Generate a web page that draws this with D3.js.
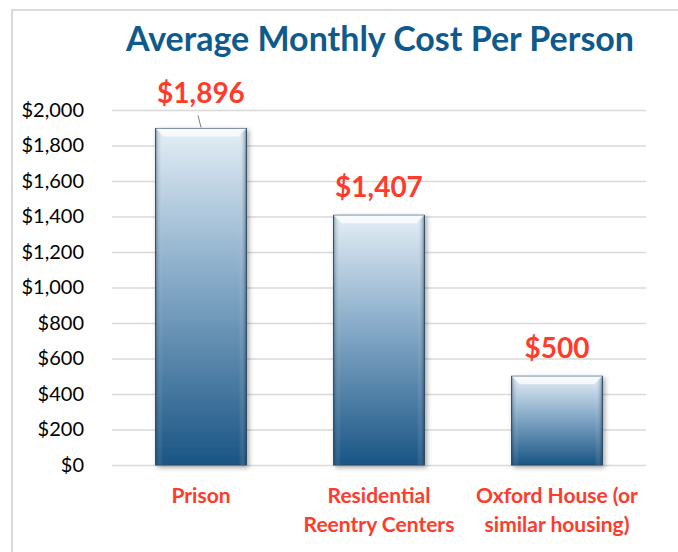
<!DOCTYPE html>
<html>
<head>
<meta charset="utf-8">
<script src="https://cdn.jsdelivr.net/npm/d3@7"></script>
<style>
  body { margin: 0; background: #fff; }
  svg { display: block; font-family: Lato, "Open Sans", sans-serif; }
</style>
</head>
<body>
<svg width="678" height="552"></svg>
<script>
// data
const categories = ['Prison', 'Residential Reentry Centers', 'Oxford House (or similar housing)'];
const categoryLines = [['Prison'], ['Residential', 'Reentry Centers'], ['Oxford House (or', 'similar housing)']];
const costs = [1896, 1407, 500];
const costLabels = ['$1,896', '$1,407', '$500'];
const yTicks = [0, 200, 400, 600, 800, 1000, 1200, 1400, 1600, 1800, 2000];

const svg = d3.select('svg');
const defs = svg.append('defs');

const grad = defs.append('linearGradient')
  .attr('id', 'barFill')
  .attr('x1', 0).attr('y1', 0).attr('x2', 0).attr('y2', 1);
grad.append('stop').attr('offset', '0%').attr('stop-color', '#e4eef6');
grad.append('stop').attr('offset', '45%').attr('stop-color', '#86aac8');
grad.append('stop').attr('offset', '100%').attr('stop-color', '#1a5584');

const side = defs.append('linearGradient')
  .attr('id', 'sideShade')
  .attr('x1', 0).attr('y1', 0).attr('x2', 1).attr('y2', 0);
side.append('stop').attr('offset', '0%').attr('stop-color', '#0d2f4a').attr('stop-opacity', 0.35);
side.append('stop').attr('offset', '8%').attr('stop-color', '#ffffff').attr('stop-opacity', 0);
side.append('stop').attr('offset', '92%').attr('stop-color', '#ffffff').attr('stop-opacity', 0);
side.append('stop').attr('offset', '100%').attr('stop-color', '#0d2f4a').attr('stop-opacity', 0.45);

const shadow = defs.append('filter').attr('id', 'shadow')
  .attr('x', '-20%').attr('y', '-10%').attr('width', '140%').attr('height', '130%');
shadow.append('feDropShadow')
  .attr('dx', 2).attr('dy', 2).attr('stdDeviation', 2.5)
  .attr('flood-color', '#000').attr('flood-opacity', 0.35);

// frame
svg.append('path')
  .attr('d', 'M12,552 V10 H678')
  .attr('fill', 'none')
  .attr('stroke', '#d9d9d9')
  .attr('stroke-width', 2);

const x = d3.scaleBand()
  .domain(categories)
  .range([112, 646])
  .paddingInner(0.49)
  .paddingOuter(0.245);

const y = d3.scaleLinear()
  .domain([0, 2000])
  .range([465, 110]);

// gridlines
svg.append('g')
  .attr('transform', 'translate(112,0)')
  .call(d3.axisLeft(y).tickValues(yTicks).tickSize(-534).tickFormat(''))
  .call(g => g.select('.domain').remove())
  .call(g => g.selectAll('line').attr('stroke', '#d9d9d9').attr('stroke-width', 1.5));

// y labels
svg.append('g')
  .attr('transform', 'translate(84,0)')
  .call(d3.axisLeft(y).tickValues(yTicks).tickSize(0).tickFormat(d => '$' + d3.format(',')(d)))
  .call(g => g.select('.domain').remove())
  .call(g => g.selectAll('text')
    .attr('x', 0)
    .attr('fill', '#000')
    .style('font-size', '20px')
    .style('font-family', 'Lato, sans-serif'));

// bars
const bars = svg.append('g').selectAll('g')
  .data(categories)
  .enter()
  .append('g');

bars.append('rect')
  .attr('x', d => x(d))
  .attr('y', (d, i) => y(costs[i]))
  .attr('width', x.bandwidth())
  .attr('height', (d, i) => y(0) - y(costs[i]))
  .attr('fill', 'url(#barFill)')
  .attr('stroke', '#2a4d68')
  .attr('stroke-width', 1)
  .attr('filter', 'url(#shadow)');

bars.append('rect')
  .attr('x', d => x(d))
  .attr('y', (d, i) => y(costs[i]))
  .attr('width', x.bandwidth())
  .attr('height', (d, i) => y(0) - y(costs[i]))
  .attr('fill', 'url(#sideShade)');

// top bevel
bars.append('path')
  .attr('d', (d, i) => {
    const x0 = x(d), x1 = x(d) + x.bandwidth(), t = y(costs[i]);
    return `M${x0},${t} L${x1},${t} L${x1 - 8},${t + 8} L${x0 + 8},${t + 8} Z`;
  })
  .attr('fill', '#ffffff')
  .attr('opacity', 0.75);

// value labels
bars.append('text')
  .attr('x', d => x(d) + x.bandwidth() / 2)
  .attr('y', (d, i) => y(costs[i]) - (i === 0 ? 25 : 18))
  .attr('text-anchor', 'middle')
  .attr('fill', '#ff3b2b')
  .style('font-size', '28px')
  .style('font-weight', 'bold')
  .text((d, i) => costLabels[i]);

// leader line for the moved Prison label
svg.append('line')
  .attr('x1', x(categories[0]) + x.bandwidth() / 2 - 3)
  .attr('y1', y(costs[0]) - 13)
  .attr('x2', x(categories[0]) + x.bandwidth() / 2)
  .attr('y2', y(costs[0]) - 1)
  .attr('stroke', '#7f7f7f')
  .attr('stroke-width', 1);

// category labels
bars.append('text')
  .attr('text-anchor', 'middle')
  .attr('fill', '#ff3b2b')
  .style('font-size', '21px')
  .style('font-weight', 'bold')
  .selectAll('tspan')
  .data((d, i) => categoryLines[i].map(t => ({ t, cx: x(d) + x.bandwidth() / 2 })))
  .enter()
  .append('tspan')
  .attr('x', d => d.cx)
  .attr('y', (d, j) => 503 + j * 29)
  .text(d => d.t);

// title
svg.append('text')
  .attr('x', 380)
  .attr('y', 51)
  .attr('text-anchor', 'middle')
  .attr('fill', '#0f5a8c')
  .style('font-size', '34px')
  .style('font-weight', 'bold')
  .text('Average Monthly Cost Per Person');
</script>
</body>
</html>
